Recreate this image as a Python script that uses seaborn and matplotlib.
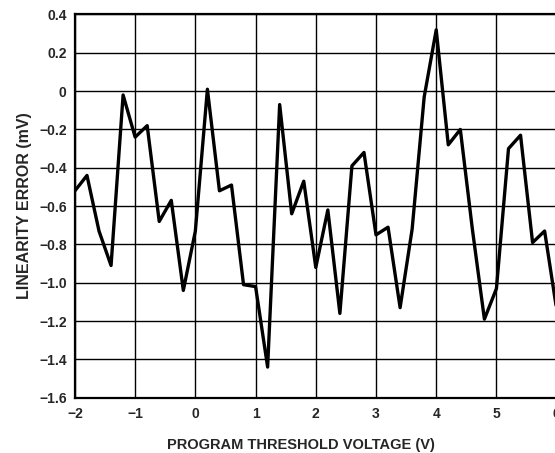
import numpy as np
import pandas as pd
import seaborn as sns
import matplotlib
matplotlib.use("Agg")
import matplotlib.pyplot as plt

voltage = [-2.0, -1.8, -1.6, -1.4, -1.2, -1.0, -0.8, -0.6, -0.4, -0.2,
           0.0, 0.2, 0.4, 0.6, 0.8, 1.0, 1.2, 1.4, 1.6, 1.8,
           2.0, 2.2, 2.4, 2.6, 2.8, 3.0, 3.2, 3.4, 3.6, 3.8,
           4.0, 4.2, 4.4, 4.6, 4.8, 5.0, 5.2, 5.4, 5.6, 5.8, 6.0]
error_mv = [-0.52, -0.44, -0.73, -0.91, -0.02, -0.24, -0.18, -0.68, -0.57, -1.04,
            -0.73, 0.01, -0.52, -0.49, -1.01, -1.02, -1.44, -0.07, -0.64, -0.47,
            -0.92, -0.62, -1.16, -0.39, -0.32, -0.75, -0.71, -1.13, -0.72, -0.03,
            0.32, -0.28, -0.20, -0.72, -1.19, -1.03, -0.30, -0.23, -0.79, -0.73, -1.14]

xticks = [-2, -1, 0, 1, 2, 3, 4, 5, 6]
yticks = [-1.6, -1.4, -1.2, -1.0, -0.8, -0.6, -0.4, -0.2, 0, 0.2, 0.4]
ytick_labels = ["\u22121.6", "\u22121.4", "\u22121.2", "\u22121.0", "\u22120.8", "\u22120.6",
                "\u22120.4", "\u22120.2", "0", "0.2", "0.4"]

df = pd.DataFrame({"voltage": voltage, "error": error_mv})

sns.set_style("white")
plt.rcParams['font.family'] = ['Liberation Sans', 'DejaVu Sans']
plt.rcParams['font.weight'] = 'bold'

fig = plt.figure(figsize=(5.55, 4.53), dpi=100)
ax = fig.add_axes([0.135, 0.122, 0.868, 0.846])

ax.set_xlim(-2, 6)
ax.set_ylim(-1.6, 0.4)
ax.set_xticks(xticks)
ax.set_xticklabels([str(t).replace("-", "\u2212") for t in xticks])
ax.set_yticks(yticks)
ax.set_yticklabels(ytick_labels)
ax.grid(True, color="black", linewidth=1.0)
ax.set_axisbelow(True)

sns.lineplot(data=df, x="voltage", y="error", ax=ax, color="black",
             linewidth=2.4, zorder=3)

for s in ax.spines.values():
    s.set_color("black")
    s.set_linewidth(1.6)

ax.tick_params(axis="y", length=0, pad=6, labelsize=10)
ax.tick_params(axis="x", length=0, pad=7, labelsize=10)
for lbl in ax.get_xticklabels() + ax.get_yticklabels():
    lbl.set_fontweight("bold")
ax.set_xlabel("PROGRAM THRESHOLD VOLTAGE (V)", fontsize=10.5, fontweight="bold")
ax.set_ylabel("LINEARITY ERROR (mV)", fontsize=11.5, fontweight="bold", labelpad=5)
ax.xaxis.set_label_coords(0.47, -0.105)

fig.savefig("out.png", dpi=100)
